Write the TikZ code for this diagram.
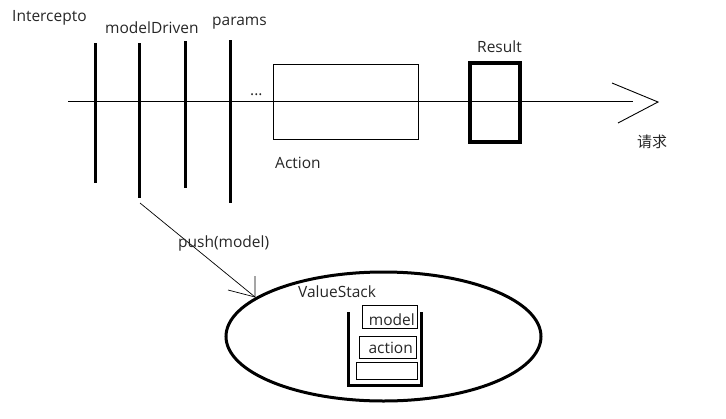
\documentclass[tikz,border=0pt]{standalone}
\usepackage{fontspec}
\usetikzlibrary{shapes.geometric}
\setmainfont{Open Sans}
\newfontfamily\cjk{Noto Sans CJK SC}
\begin{document}
\begin{tikzpicture}[x=1pt,y=-1pt,
  lbl/.style={inner sep=0pt,font=\fontsize{15.5}{18}\selectfont,text=black!85},
  bar/.style={line width=3pt},
  thinbox/.style={draw,line width=0.9pt},
  thickbox/.style={draw,line width=3.5pt}]
\useasboundingbox (0,0) rectangle (726,418);
% main line
\coordinate (ls) at (68,101);
\coordinate (le) at (633,101);
\coordinate (tip) at (658,102);
\coordinate (a1) at (612,83);
\coordinate (a2) at (618,123);
\draw[line width=0.9pt] (ls) -- (le);
\draw[line width=0.9pt] (a1) -- (tip) -- (a2);
% bars
\coordinate (b1t) at (95,43);  \coordinate (b1b) at (95,183);
\coordinate (b2t) at (139,43); \coordinate (b2b) at (139,198);
\coordinate (b3t) at (185,41); \coordinate (b3b) at (185,188);
\coordinate (b4t) at (230,40); \coordinate (b4b) at (230,203);
\draw[bar] (b1t) -- (b1b);
\draw[bar] (b2t) -- (b2b);
\draw[bar] (b3t) -- (b3b);
\draw[bar] (b4t) -- (b4b);
\node[lbl,anchor=west] (tint) at (12,18) {Intercepto};
\node[lbl,anchor=west] (tmd) at (105,28) {modelDriven};
\node[lbl,anchor=west] (tpar) at (212,23) {params};
\node[lbl,anchor=west] (dots) at (250,95) {...};
% action
\draw[thinbox] (273,64) rectangle (418,139);
\node[lbl,anchor=west] (tact) at (275,163) {Action};
% result
\draw[thickbox] (470,63) rectangle (520,142);
\node[lbl,anchor=west] (tres) at (477,47) {Result};
\node[lbl,anchor=west,font=\cjk\fontsize{15}{18}\selectfont] (treq) at (637,142) {请求};
% ellipse
\node[draw,ellipse,line width=3pt,minimum width=315pt,minimum height=129pt,inner sep=0pt] (vs) at (383.5,336.5) {};
\node[lbl,anchor=west] (tvs) at (298,292) {ValueStack};
% push arrow
\coordinate (ps) at (140,203);
\coordinate (pe) at (255,297);
\coordinate (h1) at (255,276);
\coordinate (h2) at (228,290);
\draw[line width=0.7pt] (ps) -- (pe);
\draw[line width=0.7pt] (h1) -- (pe) -- (h2);
\node[lbl,anchor=west] (tpush) at (178,243) {push(model)};
% stack container
\coordinate (sl) at (348,312);
\coordinate (sbl) at (348,385);
\coordinate (sbr) at (421,385);
\coordinate (sr) at (421,312);
\draw[line width=3pt] (sl) -- (sbl) -- (sbr) -- (sr);
\draw[thinbox] (362,305) rectangle (417,328);
\node[lbl,anchor=east] (tmodel) at (415,320) {model};
\draw[thinbox] (359,336) rectangle (416,358);
\node[lbl,anchor=east] (taction) at (413,348) {action};
\draw[thinbox] (356,362) rectangle (417,379);
\end{tikzpicture}
\end{document}
